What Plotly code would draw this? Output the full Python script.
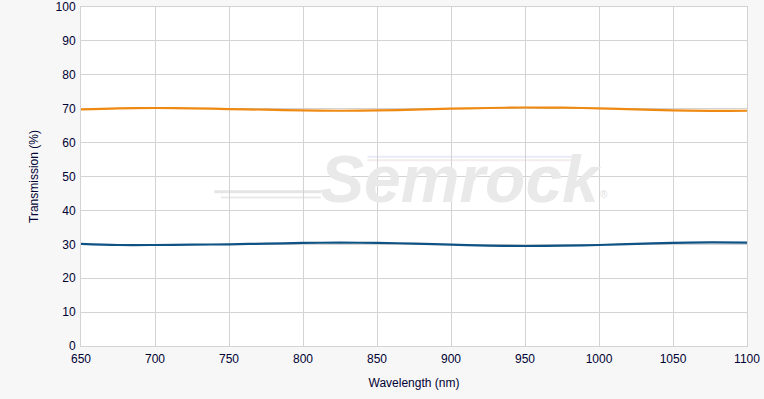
import plotly.graph_objects as go

wavelength = [650, 675, 700, 725, 750, 775, 800, 825, 850, 875, 900, 925, 950, 975, 1000, 1025, 1050, 1075, 1100]
orange_t = [69.8, 70.1, 70.2, 70.1, 69.9, 69.7, 69.5, 69.4, 69.5, 69.7, 70.0, 70.2, 70.35, 70.3, 70.1, 69.8, 69.5, 69.35, 69.4]
blue_t = [30.1, 29.8, 29.8, 29.9, 30.0, 30.2, 30.4, 30.5, 30.4, 30.2, 29.9, 29.6, 29.5, 29.6, 29.8, 30.1, 30.4, 30.55, 30.5]
x_ticks = [650, 700, 750, 800, 850, 900, 950, 1000, 1050, 1100]
y_ticks = [0, 10, 20, 30, 40, 50, 60, 70, 80, 90, 100]

fig = go.Figure()
fig.add_trace(go.Scatter(x=wavelength, y=orange_t, mode="lines",
                         line=dict(color="#EE8A12", width=2.2, shape="spline"),
                         showlegend=False, hoverinfo="skip"))
fig.add_trace(go.Scatter(x=wavelength, y=blue_t, mode="lines",
                         line=dict(color="#0F5284", width=2.2, shape="spline"),
                         showlegend=False, hoverinfo="skip"))

# watermark swoosh lines (domain coordinates of the plot area)
wm_shapes = [
    dict(type="line", xref="x domain", yref="y domain", x0=0.20, x1=0.36, y0=0.455, y1=0.455,
         line=dict(color="#e5e5e5", width=3), layer="below"),
    dict(type="line", xref="x domain", yref="y domain", x0=0.21, x1=0.36, y0=0.438, y1=0.438,
         line=dict(color="#eaeaea", width=2), layer="below"),
    dict(type="line", xref="x domain", yref="y domain", x0=0.43, x1=0.745, y0=0.558, y1=0.558,
         line=dict(color="#e8ebf6", width=2), layer="below"),
    dict(type="line", xref="x domain", yref="y domain", x0=0.43, x1=0.745, y0=0.548, y1=0.548,
         line=dict(color="#f5ebec", width=2), layer="below"),
]

fig.update_layout(
    width=764, height=399,
    margin=dict(l=81, r=17, t=7, b=53, autoexpand=False),
    paper_bgcolor="#f7f7f7",
    plot_bgcolor="#ffffff",
    font=dict(family="Liberation Sans, Arial, sans-serif", size=12, color="#000033"),
    shapes=wm_shapes,
    annotations=[
        dict(text="<b><i>Semrock</i></b>", xref="x domain", yref="y domain", x=0.57, y=0.493,
             showarrow=False, font=dict(size=66, color="#e9e9e9",
                                        family="Liberation Sans, Arial, sans-serif")),
        dict(text="®", xref="x domain", yref="y domain", x=0.795, y=0.448,
             showarrow=False, font=dict(size=10, color="#e2e2e2")),
    ],
    xaxis=dict(range=[650, 1100], tickvals=x_ticks, ticktext=[str(v) for v in x_ticks],
               showgrid=True, gridcolor="#d3d3d3", gridwidth=1, automargin=False,
               showline=True, linecolor="#d3d3d3", mirror=True, zeroline=False,
               ticks="", ticklabelstandoff=2, tickfont=dict(size=12, color="#000033"),
               title=dict(text="Wavelength (nm)", font=dict(size=12, color="#000033"), standoff=13)),
    yaxis=dict(range=[0, 100], tickvals=y_ticks, ticktext=[str(v) for v in y_ticks],
               showgrid=True, gridcolor="#d3d3d3", gridwidth=1, automargin=False,
               showline=True, linecolor="#d3d3d3", mirror=True, zeroline=False,
               ticks="", ticklabelstandoff=2, tickfont=dict(size=12, color="#000033"),
               title=dict(text="Transmission (%)", font=dict(size=12, color="#000033"), standoff=14)),
)

fig.write_html("out.html", config={"displayModeBar": False},
               post_script="document.body.style.margin='0';document.body.style.overflow='hidden';")
